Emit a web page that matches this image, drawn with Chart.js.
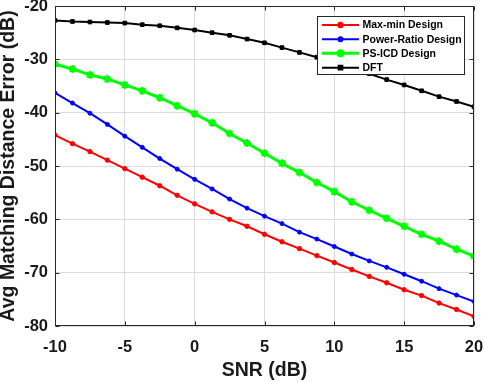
<!DOCTYPE html>
<html><head><meta charset="utf-8">
<script src="https://cdn.jsdelivr.net/npm/chart.js@4.4.1/dist/chart.umd.min.js"></script>
<style>html,body{margin:0;background:#fff}canvas{display:block}</style>
</head><body>
<canvas id="c" width="484" height="382"></canvas>
<script>
const snr=[-10,-8.75,-7.5,-6.25,-5,-3.75,-2.5,-1.25,0,1.25,2.5,3.75,5,6.25,7.5,8.75,10,11.25,12.5,13.75,15,16.25,17.5,18.75,20];
const maxMin=[-44.2,-45.8,-47.3,-48.9,-50.5,-52.1,-53.7,-55.5,-57.1,-58.6,-60.0,-61.3,-62.8,-64.2,-65.5,-66.8,-68.1,-69.4,-70.7,-71.9,-73.2,-74.3,-75.7,-76.9,-78.2];
const powerRatio=[-36.3,-38.2,-40.1,-42.2,-44.4,-46.5,-48.6,-50.6,-52.5,-54.3,-56.2,-57.9,-59.4,-60.8,-62.4,-63.7,-65.1,-66.5,-67.8,-69.0,-70.3,-71.6,-73.0,-74.2,-75.4];
const psIcd=[-30.9,-31.8,-32.9,-33.7,-34.8,-35.9,-37.2,-38.7,-40.2,-41.9,-43.9,-45.7,-47.6,-49.5,-51.2,-53.1,-54.8,-56.7,-58.3,-59.8,-61.3,-62.8,-64.1,-65.6,-66.9];
const dft=[-22.7,-22.9,-23.0,-23.1,-23.2,-23.5,-23.7,-24.1,-24.5,-25.0,-25.5,-26.2,-26.9,-27.8,-28.7,-29.6,-30.6,-31.7,-32.7,-33.8,-34.8,-35.9,-37.0,-37.9,-38.9];
const xTicks=[-10,-5,0,5,10,15,20];
const yTicks=[-80,-70,-60,-50,-40,-30,-20];
const labels=['Max-min Design','Power-Ratio Design','PS-ICD Design','DFT'];

const FONT="'Liberation Sans', Arial, sans-serif";
const AX='#262626';
const pts=a=>snr.map((x,i)=>({x,y:a[i]}));
const ds=(i,a,col,lw,style,r)=>({label:labels[i],data:pts(a),borderColor:col,backgroundColor:col,
  borderWidth:lw,pointStyle:style,pointRadius:r,pointBorderWidth:style==='star'?2:1,
  pointBackgroundColor:col,pointBorderColor:col,tension:0,fill:false,order:3-i});
const noPad=s=>{s.paddingLeft=0;s.paddingRight=0;s.paddingTop=0;s.paddingBottom=0;};

// box + inward ticks, then the legend on top
const frame={id:'frame',
  afterDatasetsDraw(ch){
    const {ctx,chartArea:a,scales:{x,y}}=ch;
    const L=Math.round(a.left)+.5,R=Math.round(a.right)-.5,T=Math.round(a.top)+.5,B=Math.round(a.bottom)-.5;
    ctx.save();
    ctx.strokeStyle=AX; ctx.lineWidth=1;
    ctx.strokeRect(L,T,R-L,B-T);
    ctx.beginPath();
    xTicks.forEach(v=>{const px=Math.round(x.getPixelForValue(v))+.5;
      ctx.moveTo(px,B);ctx.lineTo(px,B-4);ctx.moveTo(px,T);ctx.lineTo(px,T+4);});
    yTicks.forEach(v=>{const py=Math.round(y.getPixelForValue(v))+.5;
      ctx.moveTo(L,py);ctx.lineTo(L+4,py);ctx.moveTo(R,py);ctx.lineTo(R-4,py);});
    ctx.stroke();

    const lx=317.5,ly=16.5,lw=147,lh=58;
    ctx.fillStyle='#fff'; ctx.fillRect(lx,ly,lw,lh);
    ctx.strokeStyle=AX; ctx.strokeRect(lx,ly,lw,lh);
    const rows=[25,39.3,53.3,67.7];
    ch.data.datasets.forEach((d,i)=>{
      const yy=rows[i];
      ctx.strokeStyle=d.borderColor; ctx.lineWidth=d.borderWidth;
      ctx.beginPath(); ctx.moveTo(322,yy); ctx.lineTo(359,yy); ctx.stroke();
      ctx.fillStyle=d.borderColor; ctx.strokeStyle=d.borderColor;
      Chart.helpers.drawPoint(ctx,{pointStyle:d.pointStyle,radius:d.pointRadius,rotation:0,borderWidth:d.pointBorderWidth},340.5,yy);
      ctx.fillStyle='#000'; ctx.font='bold 10.5px '+FONT;
      ctx.textAlign='left'; ctx.textBaseline='middle';
      ctx.fillText(d.label,362.5,yy+.5);
    });
    ctx.restore();
  }};

new Chart(document.getElementById('c'),{
  type:'line',
  data:{datasets:[
    ds(0,maxMin,'#ff0000',2,'circle',2.2),
    ds(1,powerRatio,'#0000ff',2,'circle',2),
    ds(2,psIcd,'#00ff00',3,'star',4),
    ds(3,dft,'#000000',2,'rect',2.6)
  ]},
  options:{
    responsive:false,animation:false,
    layout:{padding:{top:6,right:10,left:0,bottom:0}},
    plugins:{legend:{display:false},tooltip:{enabled:false}},
    scales:{
      x:{type:'linear',min:-10,max:20,
        afterBuildTicks:s=>{s.ticks=xTicks.map(v=>({value:v}));},
        afterFit:s=>{s.height=56;noPad(s);},
        grid:{color:'#dcdcdc',drawTicks:false},border:{display:false},
        ticks:{padding:12,color:'#1a1a1a',font:{family:FONT,size:16.5,weight:'bold'},maxRotation:0},
        title:{display:true,text:'SNR (dB)',color:'#1a1a1a',padding:{top:0,bottom:0},
          font:{family:FONT,size:19.5,weight:'bold',lineHeight:1.2}}},
      y:{type:'linear',min:-80,max:-20,
        afterBuildTicks:s=>{s.ticks=yTicks.map(v=>({value:v}));},
        afterFit:s=>{s.width=55;noPad(s);},
        grid:{color:'#dcdcdc',drawTicks:false},border:{display:false},
        ticks:{padding:7,color:'#1a1a1a',font:{family:FONT,size:16.5,weight:'bold'}},
        title:{display:true,text:'Avg Matching Distance Error (dB)',color:'#1a1a1a',padding:{top:0,bottom:0},
          font:{family:FONT,size:19.5,weight:'bold',lineHeight:0.84}}}
    }
  },
  plugins:[frame]
});
</script>
</body></html>
